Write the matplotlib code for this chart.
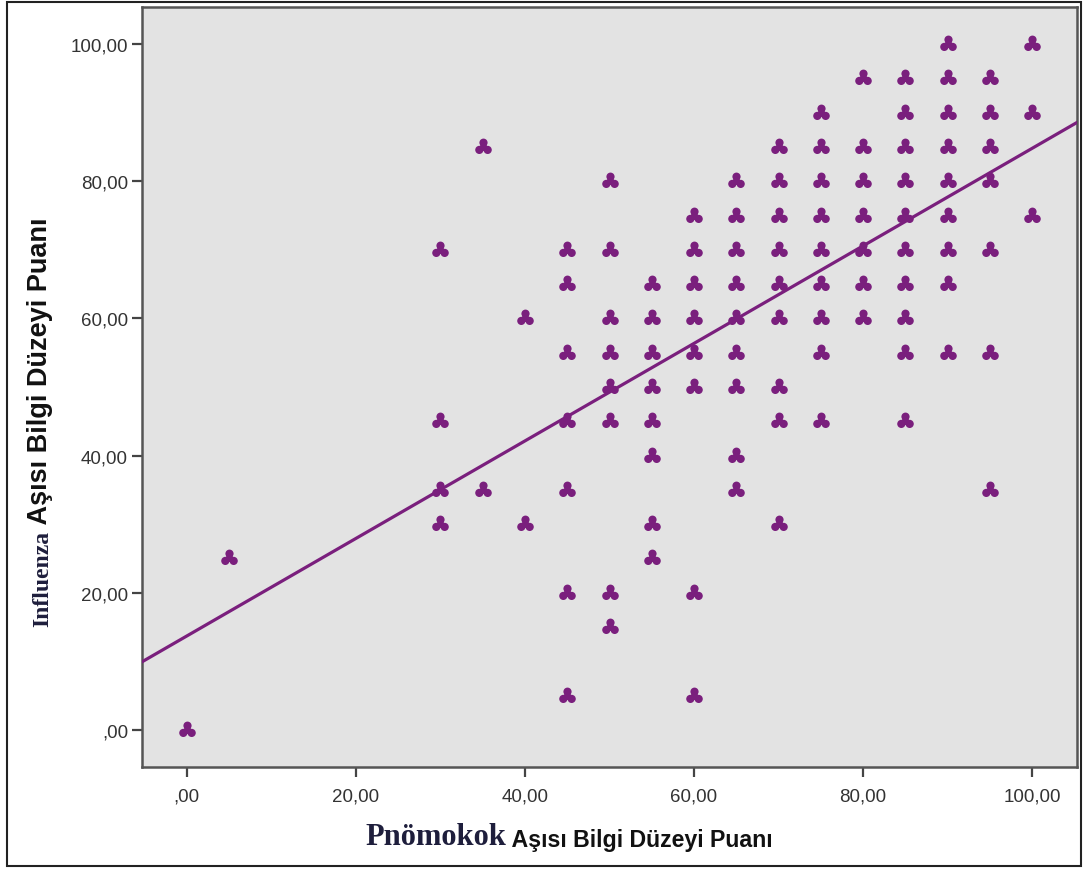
import numpy as np
import matplotlib
matplotlib.use('Agg')
import matplotlib.pyplot as plt
from matplotlib.path import Path
from matplotlib.patches import Rectangle

# points (pnomokok score, influenza score)
pnomokok = [0, 5,
            30, 30, 30, 30,
            35, 35,
            40, 40,
            45, 45, 45, 45, 45, 45, 45,
            50, 50, 50, 50, 50, 50, 50, 50,
            55, 55, 55, 55, 55, 55, 55, 55,
            60, 60, 60, 60, 60, 60, 60, 60,
            65, 65, 65, 65, 65, 65, 65, 65, 65,
            70, 70, 70, 70, 70, 70, 70, 70, 70,
            75, 75, 75, 75, 75, 75, 75, 75, 75,
            80, 80, 80, 80, 80, 80, 80,
            85, 85, 85, 85, 85, 85, 85, 85, 85, 85,
            90, 90, 90, 90, 90, 90, 90, 90, 90,
            95, 95, 95, 95, 95, 95, 95,
            100, 100, 100]
influenza = [0, 25,
             70, 45, 35, 30,
             85, 35,
             60, 30,
             70, 65, 55, 45, 35, 20, 5,
             80, 70, 60, 55, 50, 45, 20, 15,
             65, 60, 55, 50, 45, 40, 30, 25,
             75, 70, 65, 60, 55, 50, 20, 5,
             80, 75, 70, 65, 60, 55, 50, 40, 35,
             85, 80, 75, 70, 65, 60, 50, 45, 30,
             90, 85, 80, 75, 70, 65, 60, 55, 45,
             95, 85, 80, 75, 70, 65, 60,
             95, 90, 85, 80, 75, 70, 65, 60, 55, 45,
             100, 95, 90, 85, 80, 75, 70, 65, 55,
             95, 90, 85, 80, 70, 55, 35,
             100, 90, 75]

# fit line as seen in the picture
fit_intercept = 13.7
fit_slope = 0.711

ticks = [0, 20, 40, 60, 80, 100]
tick_labels = [',00', '20,00', '40,00', '60,00', '80,00', '100,00']

purple = '#7a1f7d'

# trefoil marker (three blobs + centre)
circ = Path.circle((0, 0), 1.0)
parts = []
for ang in [90, 210, 330]:
    a = np.deg2rad(ang)
    parts.append(Path(circ.vertices * 0.29 + [0.34 * np.cos(a), 0.34 * np.sin(a)], circ.codes))
parts.append(Path(circ.vertices * 0.25, circ.codes))
trefoil = Path.make_compound_path(*parts)

fig = plt.figure(figsize=(10.84, 8.70), dpi=100)
ax = fig.add_axes([142/1084, 1 - 768/870, 935/1084, 760/870])
ax.set_facecolor('#e3e3e3')

ax.scatter(pnomokok, influenza, marker=trefoil, s=165, color=purple, linewidths=0, zorder=3)
ax.axline((0, fit_intercept), slope=fit_slope, color=purple, lw=2.3, zorder=4)

ax.set_xlim(-5.3, 105.3)
ax.set_ylim(-5.4, 105.4)
ax.set_xticks(ticks)
ax.set_xticklabels(tick_labels)
ax.set_yticks(ticks)
ax.set_yticklabels(tick_labels)
ax.tick_params(direction='out', length=7, width=1.6, color='#444444',
               labelsize=13.5, labelcolor='#333333', pad=3)
ax.tick_params(axis='x', pad=8)
for lab in ax.get_xticklabels() + ax.get_yticklabels():
    lab.set_family('Liberation Sans')
for s in ax.spines.values():
    s.set_color('#555555')
    s.set_linewidth(1.8)

# axis titles with mixed fonts
title_col = '#1e1e3c'
t1 = fig.text(365/1084, 1 - 845/870, 'Pnömokok', family='Liberation Serif', weight='bold',
              fontsize=22, color=title_col, ha='left', va='baseline')
ax.annotate(' Aşısı Bilgi Düzeyi Puanı', xy=(1, 0), xycoords=t1, ha='left', va='bottom',
            family='Liberation Sans', weight='bold', fontsize=16.7, color='#111111',
            annotation_clip=False)

t2 = fig.text(53/1084, 1 - 627/870, 'Influenza', family='Liberation Serif', weight='bold',
              fontsize=17, color=title_col, rotation=90, ha='right', va='bottom')
ax.annotate(' Aşısı Bilgi Düzeyi Puanı', xy=(1, 1), xycoords=t2, ha='right', va='bottom',
            rotation=90, family='Liberation Sans', weight='bold', fontsize=19.5,
            color='#111111', annotation_clip=False)

# outer frame
fig.patches.append(Rectangle((7/1084, 3/870), 1074/1084, 864/870, transform=fig.transFigure,
                             fill=False, edgecolor='#222222', lw=1.5))

fig.savefig('out.png', dpi=100)
